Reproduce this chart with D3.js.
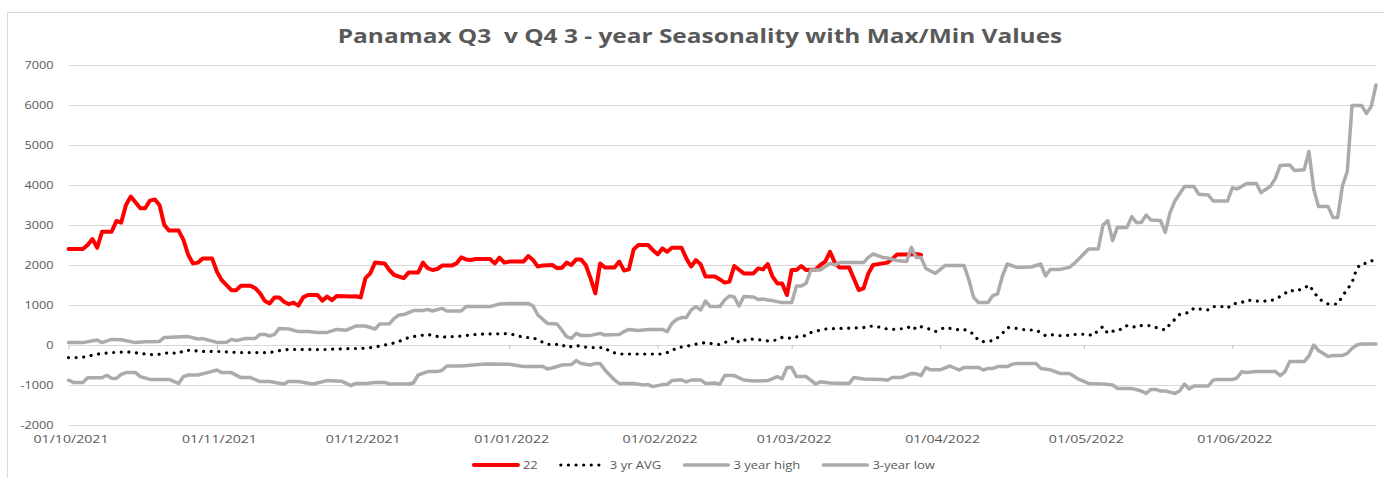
<!DOCTYPE html>
<html>
<head>
<meta charset="utf-8">
<script src="https://cdn.jsdelivr.net/npm/d3@7"></script>
<style>
  body { margin: 0; background: #fff; }
  text { font-family: "Open Sans", sans-serif; fill: #595959; }
</style>
</head>
<body>
<svg id="chart" width="1384" height="478"></svg>
<script>
// values (date, value)
const series22 = [
  ["2021-10-01",2400],["2021-10-04",2400],["2021-10-05",2500],["2021-10-06",2650],["2021-10-07",2430],
  ["2021-10-08",2830],["2021-10-10",2830],["2021-10-11",3100],["2021-10-12",3060],["2021-10-13",3500],
  ["2021-10-14",3710],["2021-10-16",3420],["2021-10-17",3420],["2021-10-18",3610],["2021-10-19",3640],
  ["2021-10-20",3500],["2021-10-21",3000],["2021-10-22",2860],["2021-10-24",2860],["2021-10-25",2630],
  ["2021-10-26",2250],["2021-10-27",2040],["2021-10-28",2060],["2021-10-29",2160],["2021-10-31",2160],
  ["2021-11-01",1830],["2021-11-02",1620],["2021-11-04",1370],["2021-11-05",1370],["2021-11-06",1480],
  ["2021-11-08",1480],["2021-11-09",1420],["2021-11-10",1290],["2021-11-11",1100],["2021-11-12",1040],
  ["2021-11-13",1190],["2021-11-14",1190],["2021-11-15",1080],["2021-11-16",1020],["2021-11-17",1060],
  ["2021-11-18",985],["2021-11-19",1190],["2021-11-20",1250],["2021-11-22",1250],["2021-11-23",1110],
  ["2021-11-24",1210],["2021-11-25",1120],["2021-11-26",1225],["2021-11-29",1210],["2021-11-30",1220],
  ["2021-12-01",1190],["2021-12-02",1670],["2021-12-03",1790],["2021-12-04",2060],["2021-12-06",2040],
  ["2021-12-07",1875],["2021-12-08",1750],["2021-12-10",1670],["2021-12-11",1810],["2021-12-13",1810],
  ["2021-12-14",2060],["2021-12-15",1920],["2021-12-16",1875],["2021-12-17",1900],["2021-12-18",1985],
  ["2021-12-20",1985],["2021-12-21",2040],["2021-12-22",2190],["2021-12-23",2140],["2021-12-24",2125],
  ["2021-12-25",2150],["2021-12-28",2150],["2021-12-29",2040],["2021-12-30",2185],["2021-12-31",2060],
  ["2022-01-01",2085],["2022-01-04",2085],["2022-01-05",2225],["2022-01-06",2125],["2022-01-07",1960],
  ["2022-01-08",1990],["2022-01-10",2000],["2022-01-11",1920],["2022-01-12",1930],["2022-01-13",2060],
  ["2022-01-14",2000],["2022-01-15",2140],["2022-01-16",2140],["2022-01-17",2000],["2022-01-18",1670],
  ["2022-01-19",1290],["2022-01-20",2040],["2022-01-21",1935],["2022-01-23",1935],["2022-01-24",2085],
  ["2022-01-25",1860],["2022-01-26",1890],["2022-01-27",2390],["2022-01-28",2500],["2022-01-30",2500],
  ["2022-01-31",2375],["2022-02-01",2265],["2022-02-02",2415],["2022-02-03",2330],["2022-02-04",2430],
  ["2022-02-06",2430],["2022-02-07",2165],["2022-02-08",1960],["2022-02-09",2125],["2022-02-10",2015],
  ["2022-02-11",1710],["2022-02-13",1710],["2022-02-14",1640],["2022-02-15",1560],["2022-02-16",1585],
  ["2022-02-17",1975],["2022-02-19",1790],["2022-02-21",1790],["2022-02-22",1915],["2022-02-23",1890],
  ["2022-02-24",2025],["2022-02-25",1710],["2022-02-26",1540],["2022-02-27",1540],["2022-02-28",1250],
  ["2022-03-01",1875],["2022-03-02",1875],["2022-03-03",1975],["2022-03-04",1875],["2022-03-06",1890],
  ["2022-03-07",2000],["2022-03-08",2085],["2022-03-09",2330],["2022-03-10",2060],["2022-03-11",1935],
  ["2022-03-13",1935],["2022-03-15",1375],["2022-03-16",1415],["2022-03-17",1790],["2022-03-18",2000],
  ["2022-03-20",2040],["2022-03-21",2060],["2022-03-22",2150],["2022-03-23",2265],["2022-03-26",2265],
  ["2022-03-27",2275],["2022-03-28",2250]
];

const seriesAvg = [
  ["2021-10-01",-315],["2021-10-03",-315],["2021-10-05",-290],["2021-10-06",-250],["2021-10-08",-210],
  ["2021-10-10",-190],["2021-10-13",-170],["2021-10-16",-210],["2021-10-19",-250],["2021-10-22",-190],
  ["2021-10-24",-210],["2021-10-25",-140],["2021-10-27",-125],["2021-10-28",-160],["2021-11-01",-160],
  ["2021-11-04",-180],["2021-11-07",-190],["2021-11-12",-190],["2021-11-13",-160],["2021-11-15",-125],
  ["2021-11-16",-110],["2021-11-20",-110],["2021-11-23",-115],["2021-11-26",-100],["2021-11-29",-90],
  ["2021-12-01",-85],["2021-12-02",-80],["2021-12-04",-50],["2021-12-06",0],["2021-12-07",20],
  ["2021-12-09",85],["2021-12-10",150],["2021-12-12",210],["2021-12-15",265],["2021-12-16",240],
  ["2021-12-18",190],["2021-12-19",210],["2021-12-21",210],["2021-12-24",250],["2021-12-27",275],
  ["2022-01-01",285],["2022-01-03",225],["2022-01-04",190],["2022-01-06",185],["2022-01-07",125],
  ["2022-01-09",15],["2022-01-12",15],["2022-01-13",-65],["2022-01-15",-10],["2022-01-16",-40],
  ["2022-01-18",-65],["2022-01-21",-65],["2022-01-22",-165],["2022-01-24",-225],["2022-02-02",-225],
  ["2022-02-04",-150],["2022-02-05",-65],["2022-02-07",-40],["2022-02-08",0],["2022-02-10",40],
  ["2022-02-11",60],["2022-02-13",20],["2022-02-14",10],["2022-02-16",110],["2022-02-17",185],
  ["2022-02-18",65],["2022-02-20",160],["2022-02-21",140],["2022-02-23",120],["2022-02-24",100],
  ["2022-02-26",125],["2022-02-27",190],["2022-03-01",165],["2022-03-02",200],["2022-03-04",235],
  ["2022-03-05",310],["2022-03-07",375],["2022-03-08",400],["2022-03-11",415],["2022-03-16",435],
  ["2022-03-17",475],["2022-03-19",455],["2022-03-20",415],["2022-03-22",390],["2022-03-23",400],
  ["2022-03-25",415],["2022-03-26",485],["2022-03-27",390],["2022-03-28",455],["2022-03-30",390],
  ["2022-03-31",335],["2022-04-02",440],["2022-04-03",415],["2022-04-05",375],["2022-04-06",390],
  ["2022-04-08",275],["2022-04-09",110],["2022-04-10",85],["2022-04-12",110],["2022-04-13",185],
  ["2022-04-14",290],["2022-04-15",435],["2022-04-17",415],["2022-04-18",390],["2022-04-20",375],
  ["2022-04-21",375],["2022-04-23",235],["2022-04-24",260],["2022-04-26",235],["2022-04-27",235],
  ["2022-04-29",260],["2022-04-30",275],["2022-05-02",260],["2022-05-03",235],["2022-05-04",375],
  ["2022-05-05",460],["2022-05-06",290],["2022-05-08",390],["2022-05-09",390],["2022-05-10",485],
  ["2022-05-12",440],["2022-05-13",485],["2022-05-15",485],["2022-05-16",440],["2022-05-18",375],
  ["2022-05-19",525],["2022-05-20",640],["2022-05-21",765],["2022-05-23",815],["2022-05-24",925],
  ["2022-05-25",900],["2022-05-27",875],["2022-05-28",960],["2022-05-30",960],["2022-05-31",920],
  ["2022-06-01",1025],["2022-06-03",1065],["2022-06-04",1125],["2022-06-06",1100],["2022-06-07",1085],
  ["2022-06-09",1110],["2022-06-10",1140],["2022-06-12",1290],["2022-06-13",1375],["2022-06-14",1340],
  ["2022-06-16",1415],["2022-06-17",1500],["2022-06-18",1335],["2022-06-19",1165],["2022-06-20",1085],
  ["2022-06-21",1025],["2022-06-23",1025],["2022-06-24",1225],["2022-06-25",1390],["2022-06-26",1560],
  ["2022-06-27",1915],["2022-06-28",2040],["2022-06-29",2040],["2022-06-30",2085],["2022-07-01",2225]
];

const seriesHigh = [
  ["2021-10-01",60],["2021-10-04",60],["2021-10-07",125],["2021-10-08",60],["2021-10-10",140],
  ["2021-10-12",130],["2021-10-15",60],["2021-10-17",80],["2021-10-20",90],["2021-10-21",190],
  ["2021-10-26",210],["2021-10-28",150],["2021-10-29",160],["2021-11-01",65],["2021-11-03",70],
  ["2021-11-04",140],["2021-11-05",110],["2021-11-07",165],["2021-11-09",165],["2021-11-10",265],
  ["2021-11-11",265],["2021-11-12",225],["2021-11-13",265],["2021-11-14",415],["2021-11-16",400],
  ["2021-11-18",335],["2021-11-20",340],["2021-11-22",310],["2021-11-24",315],["2021-11-26",390],
  ["2021-11-28",370],["2021-11-30",475],["2021-12-02",475],["2021-12-04",400],["2021-12-05",525],
  ["2021-12-07",530],["2021-12-08",665],["2021-12-09",750],["2021-12-10",760],["2021-12-12",860],
  ["2021-12-14",860],["2021-12-15",890],["2021-12-16",850],["2021-12-18",915],["2021-12-19",850],
  ["2021-12-22",850],["2021-12-23",960],["2021-12-28",960],["2021-12-30",1025],["2022-01-01",1040],
  ["2022-01-05",1040],["2022-01-06",975],["2022-01-07",750],["2022-01-09",540],["2022-01-11",525],
  ["2022-01-12",375],["2022-01-13",210],["2022-01-14",165],["2022-01-15",290],["2022-01-16",240],
  ["2022-01-18",240],["2022-01-20",290],["2022-01-21",250],["2022-01-24",265],["2022-01-25",335],
  ["2022-01-26",390],["2022-01-28",360],["2022-01-30",390],["2022-02-02",390],["2022-02-03",335],
  ["2022-02-04",540],["2022-02-05",640],["2022-02-06",685],["2022-02-07",685],["2022-02-08",875],
  ["2022-02-09",960],["2022-02-10",875],["2022-02-11",1100],["2022-02-12",960],["2022-02-14",960],
  ["2022-02-15",1125],["2022-02-16",1225],["2022-02-17",1200],["2022-02-18",975],["2022-02-19",1210],
  ["2022-02-21",1200],["2022-02-22",1140],["2022-02-23",1150],["2022-02-24",1125],["2022-02-25",1110],
  ["2022-02-27",1060],["2022-03-01",1060],["2022-03-02",1475],["2022-03-03",1475],["2022-03-04",1540],
  ["2022-03-05",1875],["2022-03-07",1875],["2022-03-08",1960],["2022-03-09",2040],["2022-03-10",2000],
  ["2022-03-11",2060],["2022-03-16",2060],["2022-03-17",2190],["2022-03-18",2275],["2022-03-20",2190],
  ["2022-03-21",2175],["2022-03-23",2110],["2022-03-25",2090],["2022-03-26",2440],["2022-03-27",2190],
  ["2022-03-28",2190],["2022-03-29",1915],["2022-03-30",1850],["2022-03-31",1790],["2022-04-02",1985],
  ["2022-04-06",1985],["2022-04-07",1625],["2022-04-08",1185],["2022-04-09",1065],["2022-04-11",1065],
  ["2022-04-12",1235],["2022-04-13",1280],["2022-04-14",1725],["2022-04-15",2025],["2022-04-17",1940],
  ["2022-04-20",1950],["2022-04-22",2025],["2022-04-23",1725],["2022-04-24",1890],["2022-04-26",1890],
  ["2022-04-28",1940],["2022-04-29",2040],["2022-05-02",2400],["2022-05-04",2400],["2022-05-05",3000],
  ["2022-05-06",3110],["2022-05-07",2610],["2022-05-08",2940],["2022-05-10",2940],["2022-05-11",3210],
  ["2022-05-12",3060],["2022-05-13",3060],["2022-05-14",3250],["2022-05-15",3125],["2022-05-17",3110],
  ["2022-05-18",2815],["2022-05-19",3310],["2022-05-20",3600],["2022-05-22",3960],["2022-05-24",3960],
  ["2022-05-25",3770],["2022-05-27",3750],["2022-05-28",3600],["2022-05-31",3600],["2022-06-01",3930],
  ["2022-06-02",3900],["2022-06-04",4040],["2022-06-06",4040],["2022-06-07",3810],["2022-06-09",3975],
  ["2022-06-10",4165],["2022-06-11",4490],["2022-06-13",4500],["2022-06-14",4360],["2022-06-16",4380],
  ["2022-06-17",4840],["2022-06-18",3900],["2022-06-19",3460],["2022-06-21",3460],["2022-06-22",3190],
  ["2022-06-23",3190],["2022-06-24",3980],["2022-06-25",4335],["2022-06-26",5985],["2022-06-28",5985],
  ["2022-06-29",5790],["2022-06-30",5960],["2022-07-01",6500]
];

const seriesLow = [
  ["2021-10-01",-880],["2021-10-02",-935],["2021-10-04",-935],["2021-10-05",-820],["2021-10-08",-820],
  ["2021-10-09",-755],["2021-10-10",-830],["2021-10-11",-835],["2021-10-12",-735],["2021-10-13",-690],
  ["2021-10-15",-690],["2021-10-16",-790],["2021-10-18",-860],["2021-10-22",-860],["2021-10-24",-960],
  ["2021-10-25",-790],["2021-10-26",-750],["2021-10-28",-750],["2021-10-30",-690],["2021-11-01",-625],
  ["2021-11-02",-690],["2021-11-04",-690],["2021-11-06",-815],["2021-11-08",-815],["2021-11-10",-915],
  ["2021-11-12",-915],["2021-11-15",-975],["2021-11-16",-910],["2021-11-18",-915],["2021-11-21",-975],
  ["2021-11-24",-890],["2021-11-27",-905],["2021-11-29",-1015],["2021-11-30",-960],["2021-12-02",-960],
  ["2021-12-04",-935],["2021-12-06",-935],["2021-12-07",-975],["2021-12-11",-975],["2021-12-12",-950],
  ["2021-12-13",-750],["2021-12-15",-665],["2021-12-17",-665],["2021-12-18",-630],["2021-12-19",-525],
  ["2021-12-22",-525],["2021-12-27",-475],["2022-01-01",-480],["2022-01-04",-540],["2022-01-07",-540],
  ["2022-01-08",-530],["2022-01-09",-600],["2022-01-10",-575],["2022-01-12",-500],["2022-01-14",-490],
  ["2022-01-15",-390],["2022-01-16",-460],["2022-01-18",-500],["2022-01-19",-460],["2022-01-20",-460],
  ["2022-01-21",-625],["2022-01-23",-875],["2022-01-24",-960],["2022-01-27",-960],["2022-01-29",-1000],
  ["2022-01-30",-990],["2022-01-31",-1040],["2022-02-02",-990],["2022-02-03",-985],["2022-02-04",-890],
  ["2022-02-06",-870],["2022-02-07",-925],["2022-02-08",-875],["2022-02-10",-875],["2022-02-11",-960],
  ["2022-02-13",-950],["2022-02-14",-980],["2022-02-15",-765],["2022-02-17",-765],["2022-02-19",-875],
  ["2022-02-21",-900],["2022-02-24",-890],["2022-02-26",-790],["2022-02-27",-845],["2022-02-28",-565],
  ["2022-03-01",-565],["2022-03-02",-790],["2022-03-04",-790],["2022-03-06",-975],["2022-03-07",-920],
  ["2022-03-09",-950],["2022-03-13",-960],["2022-03-14",-810],["2022-03-16",-850],["2022-03-20",-860],
  ["2022-03-21",-880],["2022-03-22",-810],["2022-03-24",-810],["2022-03-26",-710],["2022-03-27",-720],
  ["2022-03-28",-765],["2022-03-29",-565],["2022-03-30",-620],["2022-04-01",-620],["2022-04-03",-525],
  ["2022-04-05",-625],["2022-04-06",-560],["2022-04-09",-560],["2022-04-10",-625],["2022-04-11",-585],
  ["2022-04-12",-585],["2022-04-13",-540],["2022-04-15",-540],["2022-04-16",-485],["2022-04-17",-460],
  ["2022-04-21",-460],["2022-04-22",-585],["2022-04-24",-620],["2022-04-26",-710],["2022-04-28",-710],
  ["2022-04-30",-860],["2022-05-02",-960],["2022-05-05",-975],["2022-05-07",-1000],["2022-05-08",-1085],
  ["2022-05-11",-1085],["2022-05-13",-1150],["2022-05-14",-1210],["2022-05-15",-1110],["2022-05-16",-1110],
  ["2022-05-17",-1150],["2022-05-18",-1150],["2022-05-20",-1210],["2022-05-21",-1150],["2022-05-22",-975],
  ["2022-05-23",-1100],["2022-05-24",-1025],["2022-05-27",-1025],["2022-05-28",-875],["2022-05-29",-865],
  ["2022-06-01",-865],["2022-06-02",-820],["2022-06-03",-665],["2022-06-04",-690],["2022-06-06",-665],
  ["2022-06-10",-665],["2022-06-11",-765],["2022-06-12",-665],["2022-06-13",-415],["2022-06-16",-415],
  ["2022-06-17",-275],["2022-06-18",0],["2022-06-19",-140],["2022-06-21",-290],["2022-06-22",-260],
  ["2022-06-24",-260],["2022-06-25",-210],["2022-06-26",-85],["2022-06-27",0],["2022-06-28",25],
  ["2022-07-01",25]
];

const seriesNames = ["22", "3 yr AVG", "3 year high", "3-year low"];
const yTicks = [-2000, -1000, 0, 1000, 2000, 3000, 4000, 5000, 6000, 7000];
const monthTicks = ["2021-10-01","2021-11-01","2021-12-01","2022-01-01","2022-02-01",
                    "2022-03-01","2022-04-01","2022-05-01","2022-06-01"];
const monthLabels = ["01/10/2021","01/11/2021","01/12/2021","01/01/2022","01/02/2022",
                     "01/03/2022","01/04/2022","01/05/2022","01/06/2022"];
const titleText = "Panamax Q3  v Q4 3 - year Seasonality with Max/Min Values";

const parse = d3.utcParse("%Y-%m-%d");
const svg = d3.select("#chart");
const W = 1384, H = 478;
const plot = { left: 68.5, right: 1376, top: 65, bottom: 425 };

// width of a string at a given size, used to stretch text like the wide original
function measure(str, size, weight) {
  const t = svg.append("text")
    .style("font-size", size + "px").style("font-weight", weight || 400)
    .style("white-space", "pre").text(str);
  const w = t.node().getComputedTextLength();
  t.remove();
  return w;
}

// outer frame
svg.append("rect")
  .attr("x", 7.5).attr("y", 12.5).attr("width", W).attr("height", H)
  .attr("fill", "none").attr("stroke", "#d9d9d9");

const x = d3.scaleUtc()
  .domain([parse("2021-10-01"), parse("2022-07-01")])
  .range([plot.left, plot.right]);
const y = d3.scaleLinear()
  .domain([-2000, 7000])
  .range([plot.bottom, plot.top]);

// gridlines
const grid = svg.append("g")
  .attr("transform", `translate(${plot.left},0)`)
  .call(d3.axisLeft(y).tickValues(yTicks).tickSize(-(plot.right - plot.left)).tickFormat(""));
grid.select(".domain").remove();
grid.selectAll("line").attr("stroke", "#d9d9d9").attr("stroke-width", 1);

// y labels
const yLabSize = 11;
const ySx = 29 / measure("7000", yLabSize);
const yAxis = svg.append("g")
  .attr("transform", `translate(${plot.left},0)`)
  .call(d3.axisLeft(y).tickValues(yTicks).tickSize(0).tickPadding(0).tickFormat(d => String(d)));
yAxis.select(".domain").remove();
yAxis.selectAll("text")
  .style("font-size", yLabSize + "px")
  .attr("x", -15 / ySx)
  .attr("transform", `scale(${ySx},1)`);

// small month ticks on the zero line
const zeroAxis = svg.append("g")
  .attr("transform", `translate(0,${y(0)})`)
  .call(d3.axisBottom(x).tickValues(monthTicks.map(parse)).tickSize(4).tickSizeOuter(0).tickFormat(""));
zeroAxis.select(".domain").attr("stroke", "#d9d9d9");
zeroAxis.selectAll("line").attr("stroke", "#bfbfbf");

// month labels along the bottom
const xLabSize = 11;
const xSx = 75 / measure("01/10/2021", xLabSize);
const xAxis = svg.append("g")
  .attr("transform", `translate(0,${plot.bottom})`)
  .call(d3.axisBottom(x).tickValues(monthTicks.map(parse)).tickSize(0).tickPadding(10)
    .tickFormat((d, i) => monthLabels[i]));
xAxis.select(".domain").remove();
xAxis.selectAll("text")
  .style("font-size", xLabSize + "px")
  .attr("x", 2 / xSx)
  .attr("transform", `scale(${xSx},1)`);

// series
const line = d3.line()
  .x(d => x(parse(d[0])))
  .y(d => y(d[1]));

const styles = [
  { color: "#ff0000", width: 4, dash: null },
  { color: "#000000", width: 3.2, dash: "0.01 7.6" },
  { color: "#aeaaaa", width: 3.5, dash: null },
  { color: "#aeaaaa", width: 3.5, dash: null }
];
const allSeries = [series22, seriesAvg, seriesHigh, seriesLow];

allSeries.forEach((s, i) => {
  svg.append("path")
    .datum(s)
    .attr("d", line)
    .attr("fill", "none")
    .attr("stroke", styles[i].color)
    .attr("stroke-width", styles[i].width)
    .attr("stroke-linejoin", "round")
    .attr("stroke-linecap", "round")
    .attr("stroke-dasharray", styles[i].dash);
});

// title
const titleSize = 20;
const tSx = 725 / measure(titleText, titleSize, 700);
svg.append("text")
  .attr("transform", `translate(700,43) scale(${tSx},1)`)
  .attr("text-anchor", "middle")
  .style("font-size", titleSize + "px")
  .style("font-weight", 700)
  .style("white-space", "pre")
  .text(titleText);

// legend
const legSize = 11.5;
const lSx = 67 / measure("3 year high", legSize);
const sampleLen = 44, textGap = 5, itemGap = 23;
const itemWidths = seriesNames.map(n => sampleLen + textGap + measure(n, legSize) * lSx);
const legendTotal = d3.sum(itemWidths) + itemGap * (seriesNames.length - 1);
let lx = 704.5 - legendTotal / 2;
const ly = 465;
const legend = svg.append("g");
seriesNames.forEach((name, i) => {
  legend.append("line")
    .attr("x1", lx).attr("x2", lx + sampleLen)
    .attr("y1", ly).attr("y2", ly)
    .attr("stroke", styles[i].color)
    .attr("stroke-width", styles[i].width)
    .attr("stroke-linecap", "round")
    .attr("stroke-dasharray", styles[i].dash);
  legend.append("text")
    .attr("transform", `translate(${lx + sampleLen + textGap},${ly}) scale(${lSx},1)`)
    .attr("dy", "0.35em")
    .style("font-size", legSize + "px")
    .text(name);
  lx += itemWidths[i] + itemGap;
});
</script>
</body>
</html>
